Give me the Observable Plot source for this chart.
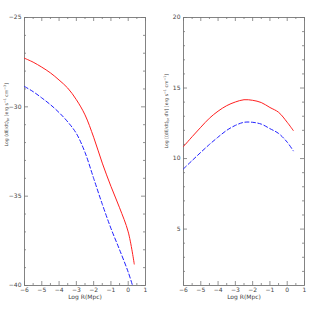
<!DOCTYPE html>
<html><head><meta charset="utf-8">
<script src="https://cdn.jsdelivr.net/npm/d3@7"></script>
<script src="https://cdn.jsdelivr.net/npm/@observablehq/plot@0.6"></script>
<style>
body{margin:0;background:#fff;}
#wrap{display:flex;width:319px;height:319px;overflow:hidden;}
#wrap svg{display:block;background:#fff;}
</style></head><body><div id="wrap"></div>
<script>
// Log R (Mpc) sample points
const leftXRed  = [-6,-5.5,-5,-4.5,-4,-3.5,-3,-2.5,-2,-1.5,-1,-0.5,0,0.35];
const leftRed   = [-27.28,-27.5,-27.78,-28.1,-28.5,-28.95,-29.6,-30.45,-31.7,-33.15,-34.45,-35.65,-37.0,-38.8];
const leftXBlue = [-6,-5.5,-5,-4.5,-4,-3.5,-3,-2.5,-2,-1.5,-1,-0.5,0,0.25];
const leftBlue  = [-28.86,-29.15,-29.5,-29.88,-30.32,-30.84,-31.49,-32.55,-34.0,-35.45,-36.8,-38.0,-39.25,-40];
const rightX    = [-6,-5.5,-5,-4.5,-4,-3.5,-3,-2.5,-2,-1.5,-1,-0.5,0,0.35];
const rightRed  = [10.85,11.55,12.22,12.86,13.36,13.75,14.01,14.17,14.13,13.97,13.62,13.28,12.57,11.99];
const rightBlue = [9.27,9.86,10.44,11.0,11.52,12.0,12.35,12.57,12.57,12.44,12.12,11.78,11.16,10.55];

const xDomain = [-6, 1];
const xMajor = [-6,-5,-4,-3,-2,-1,0,1];
const xMinor = [-5.5,-4.5,-3.5,-2.5,-1.5,-0.5,0.5];
const leftYDomain = [-40, -25];
const leftYMajor = [-40,-35,-30,-25];
const leftYMinor = [-39,-38,-37,-36,-34,-33,-32,-31,-29,-28,-27,-26];
const rightYDomain = [1, 20];
const rightYMajor = [5,10,15,20];
const rightYMinor = [2,3,4,6,7,8,9,11,12,13,14,16,17,18,19];
const xLabel = "Log R(Mpc)";
const leftYLabelHtml = 'Log (dE/dt)<tspan font-size="3.3" dy="1.1">br</tspan><tspan dy="-1.1"> [erg s</tspan><tspan font-size="3.3" dy="-1.7">−1</tspan><tspan dy="1.7"> cm</tspan><tspan font-size="3.3" dy="-1.7">−3</tspan><tspan dy="1.7">]</tspan>';
const rightYLabelHtml = 'Log [(dE/dt)<tspan font-size="3.3" dy="1.1">br</tspan><tspan dy="-1.1"> dV] [erg s</tspan><tspan font-size="3.3" dy="-1.7">−1</tspan><tspan dy="1.7"> cm</tspan><tspan font-size="3.3" dy="-1.7">−1</tspan><tspan dy="1.7">]</tspan>';

const fmt = d3.format("d");
const txt = "#444", tickCol = "#777";

function panel(o) {
  const H = 319, mt = 17, mb = 34;
  const ih = H - mt - mb, iw = o.width - o.ml - o.mr;
  const [y0, y1] = o.yDomain, [x0, x1] = xDomain;
  const ky = (y1 - y0) / ih, kx = (x1 - x0) / iw;
  const maj = 4, min = 2;
  const rs = {stroke: tickCol, strokeWidth: 0.8};
  const red = o.redX.map((x, i) => ({x, y: o.red[i]}));
  const blue = o.blueX.map((x, i) => ({x, y: o.blue[i]}));
  const svg = Plot.plot({
    width: o.width, height: H,
    marginLeft: o.ml, marginRight: o.mr, marginTop: mt, marginBottom: mb,
    x: {domain: xDomain, axis: null},
    y: {domain: o.yDomain, axis: null},
    style: {fontFamily: "DejaVu Sans", fontSize: "6px", color: txt, background: "#fff"},
    marks: [
      Plot.ruleX(xMajor, {x: d => d, y1: y0, y2: y0 + maj * ky, ...rs}),
      Plot.ruleX(xMajor, {x: d => d, y1: y1, y2: y1 - maj * ky, ...rs}),
      Plot.ruleX(xMinor, {x: d => d, y1: y0, y2: y0 + min * ky, ...rs}),
      Plot.ruleX(xMinor, {x: d => d, y1: y1, y2: y1 - min * ky, ...rs}),
      Plot.ruleY(o.yMajor, {y: d => d, x1: x0, x2: x0 + maj * kx, ...rs}),
      Plot.ruleY(o.yMajor, {y: d => d, x1: x1, x2: x1 - maj * kx, ...rs}),
      Plot.ruleY(o.yMinor, {y: d => d, x1: x0, x2: x0 + min * kx, ...rs}),
      Plot.ruleY(o.yMinor, {y: d => d, x1: x1, x2: x1 - min * kx, ...rs}),
      Plot.frame({stroke: tickCol, strokeWidth: 0.9}),
      Plot.axisX({ticks: xMajor, tickSize: 0, tickPadding: 2, tickFormat: fmt, fill: txt, label: null}),
      Plot.axisY({ticks: o.yMajor, tickSize: 0, tickPadding: 3, tickFormat: fmt, fill: txt, label: null}),
      Plot.line(red, {x: "x", y: "y", stroke: "#ff1f1f", strokeWidth: 1, curve: "catmull-rom"}),
      Plot.line(blue, {x: "x", y: "y", stroke: "#1f1fff", strokeWidth: 1, strokeDasharray: "4,2.5", curve: "catmull-rom"}),
      Plot.text([xLabel], {text: d => d, frameAnchor: "bottom", dy: 13, fill: txt, fontSize: 6}),
      Plot.text(["YLAB"], {text: d => d, frameAnchor: "left", dx: o.ylabDx, dy: o.ylabDy, rotate: -90, fill: txt, fontSize: 4.6})
    ]
  });
  d3.select(svg).selectAll("text").filter(function() { return this.textContent === "YLAB"; }).html(o.ylabHtml);
  return svg;
}

const wrap = document.getElementById("wrap");
wrap.appendChild(panel({width: 160, ml: 24, mr: 15, yDomain: leftYDomain, yMajor: leftYMajor, yMinor: leftYMinor,
  redX: leftXRed, red: leftRed, blueX: leftXBlue, blue: leftBlue, ylabHtml: leftYLabelHtml, ylabDx: -18, ylabDy: -5}));
wrap.appendChild(panel({width: 159, ml: 23, mr: 15, yDomain: rightYDomain, yMajor: rightYMajor, yMinor: rightYMinor,
  redX: rightX, red: rightRed, blueX: rightX, blue: rightBlue, ylabHtml: rightYLabelHtml, ylabDx: -17, ylabDy: -3}));
</script></body></html>
